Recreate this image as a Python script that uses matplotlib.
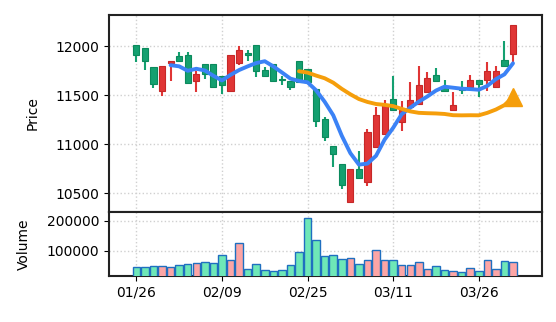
import matplotlib
matplotlib.use("Agg")
import matplotlib.pyplot as plt
import numpy as np
import pandas as pd

dates = ["01/26","01/27","01/28","01/29","01/30","02/02","02/03","02/04","02/05","02/06",
         "02/09","02/10","02/11","02/12","02/13","02/16","02/17","02/18","02/19","02/20",
         "02/25","02/26","02/27","03/02","03/03","03/04","03/05","03/06","03/09","03/10",
         "03/11","03/12","03/13","03/16","03/17","03/18","03/19","03/20","03/23","03/24",
         "03/26","03/27","03/30","03/31","04/01"]
opens = [12007, 11977, 11786, 11548, 11827, 11898, 11905, 11643, 11820, 11820,
         11701, 11545, 11831, 11929, 12007, 11759, 11820, 11660, 11643, 11854,
         11769, 11565, 11259, 10987, 10800, 10409, 10749, 10613, 10977, 11106,
         11463, 11232, 11378, 11412, 11538, 11708, 11599, 11351, 11565, 11589,
         11657, 11657, 11589, 11861, 11922]
closes = [11905, 11854, 11616, 11803, 11854, 11847, 11627, 11718, 11718, 11582,
          11609, 11912, 11963, 11905, 11752, 11701, 11650, 11655, 11589, 11633,
          11633, 11242, 11072, 10902, 10589, 10749, 10658, 11123, 11300, 11412,
          11351, 11351, 11453, 11609, 11677, 11650, 11548, 11402, 11558, 11657,
          11616, 11745, 11745, 11803, 12218]
highs = [12007, 11977, 11786, 11803, 11854, 11936, 11936, 11745, 11820, 11820,
         11701, 11912, 12000, 11966, 12007, 11786, 11820, 11701, 11643, 11854,
         11769, 11565, 11283, 10987, 10800, 10749, 10936, 11160, 11378, 11453,
         11701, 11439, 11640, 11803, 11742, 11779, 11657, 11531, 11650, 11711,
         11657, 11837, 11803, 12048, 12218]
lows = [11837, 11762, 11572, 11490, 11650, 11837, 11620, 11531, 11667, 11572,
        11514, 11545, 11813, 11847, 11684, 11684, 11650, 11609, 11555, 11633,
        11633, 11174, 11031, 10766, 10545, 10400, 10658, 10579, 10960, 11106,
        11340, 11133, 11378, 11412, 11538, 11640, 11548, 11351, 11514, 11589,
        11480, 11548, 11589, 11790, 11837]
volumes = [44900, 44900, 48300, 48300, 44900, 51700, 55100, 57300, 60700, 58400,
           85400, 68500, 124700, 38200, 53900, 34800, 30300, 33700, 51700, 95500,
           210000, 136000, 82000, 85400, 71900, 76400, 55100, 68500, 102200, 67400,
           68500, 50600, 50600, 60700, 37100, 48300, 33700, 30300, 27000, 41600,
           31500, 67400, 37100, 64000, 60700]
tick_idx = [0, 10, 20, 30, 40]

UP_FACE, UP_EDGE = "#e03535", "#c62828"
DN_FACE, DN_EDGE = "#14a070", "#0b8a5c"
VUP, VDN, VEDGE = "#fca5a5", "#6ee7b7", "#1f6fc0"

fig = plt.figure(figsize=(5.56, 3.22), dpi=100)
ax = fig.add_axes([0.196, 0.343, 0.779, 0.610])
axv = fig.add_axes([0.196, 0.143, 0.779, 0.200], sharex=ax)

x = np.arange(len(dates))
o = np.array(opens); c = np.array(closes); h = np.array(highs); l = np.array(lows)
up = c >= o

for i in x:
    fc = UP_FACE if up[i] else DN_FACE
    ec = UP_EDGE if up[i] else DN_EDGE
    ax.vlines(i, l[i], h[i], color=fc, lw=1.5, zorder=2)
    bot = min(o[i], c[i]); height = max(abs(c[i] - o[i]), 8)
    ax.bar(i, height, bottom=bot, width=0.72, color=fc, edgecolor=ec, lw=0.8, zorder=3)

s = pd.Series(c, dtype=float)
ma5 = s.rolling(5).mean()
ma20 = s.rolling(20).mean()
ax.plot(x, ma5, color="#3b82f6", lw=2.8, zorder=4, solid_capstyle="round", solid_joinstyle="round")
ax.plot(x, ma20, color="#f59e0b", lw=2.8, zorder=4, solid_capstyle="round", solid_joinstyle="round")
ax.plot([x[-1]], [ma20.iloc[-1]], marker="^", ms=13, color="#f59e0b", zorder=5)

ax.set_ylim(10316, 12316)
ax.set_yticks([10500, 11000, 11500, 12000])
ax.set_xlim(-3.2, 47.4)
ax.set_ylabel("Price", fontsize=10, labelpad=11)
ax.grid(True, linestyle=":", color="#d0d0d0", lw=1)
ax.set_axisbelow(True)
ax.tick_params(axis="x", which="both", bottom=False, labelbottom=False)
ax.tick_params(axis="y", labelsize=10)

vcols = [VUP if u else VDN for u in up]
axv.bar(x, volumes, width=0.88, color=vcols, edgecolor=VEDGE, lw=1.0, zorder=3)
axv.set_ylim(14800, 231300)
axv.set_yticks([100000, 200000])
axv.set_ylabel("Volume", fontsize=10, labelpad=11)
axv.grid(True, linestyle=":", color="#d0d0d0", lw=1)
axv.set_axisbelow(True)
axv.set_xticks(tick_idx)
axv.set_xticklabels([dates[i] for i in tick_idx])
axv.tick_params(labelsize=10)

for a in (ax, axv):
    for sp in a.spines.values():
        sp.set_linewidth(1.5)
        sp.set_color("#222222")

fig.savefig("out.png", dpi=100)
